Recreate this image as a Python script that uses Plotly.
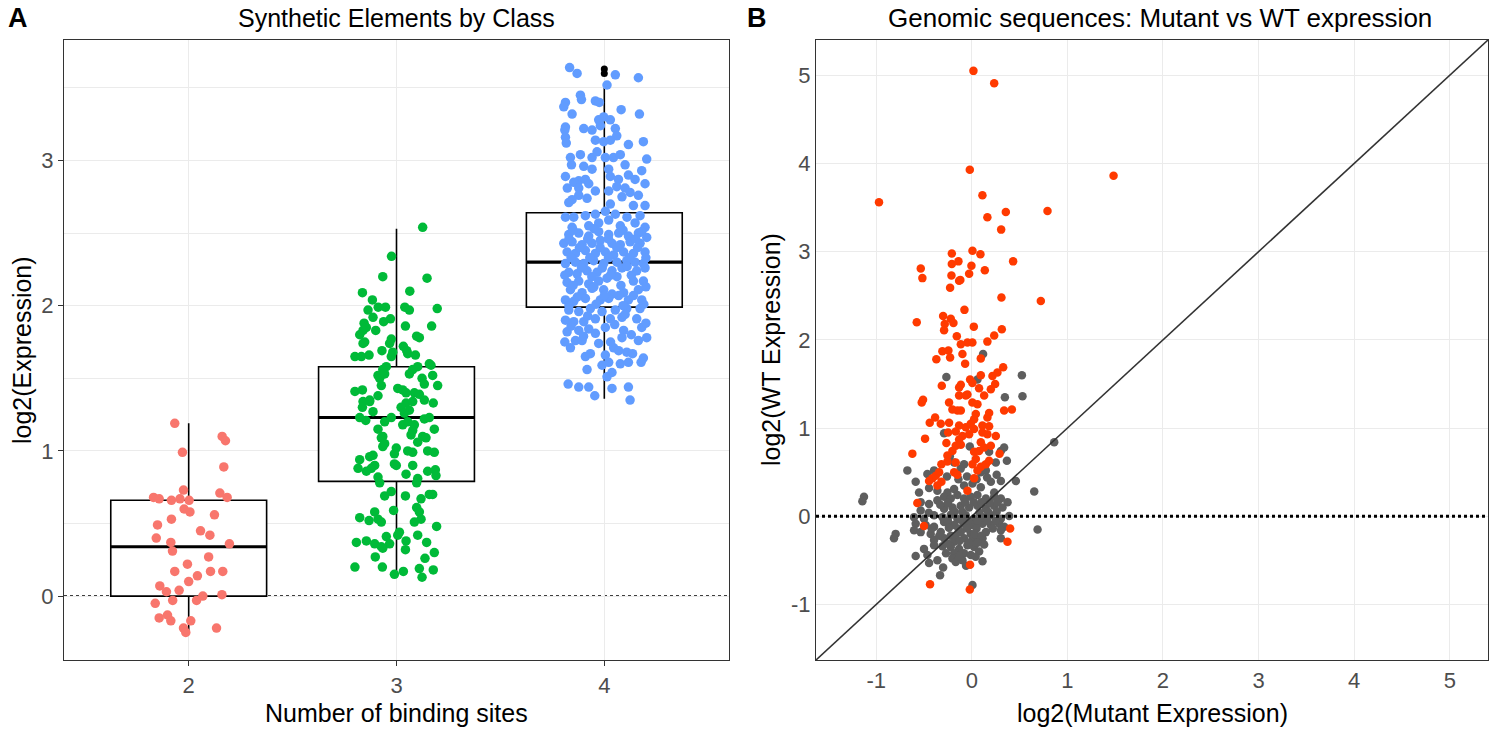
import plotly.graph_objects as go

# ---- panel A : synthetic elements ----
# jitter offset from the category and log2 expression for each element
red_dx = [-0.067, 0.161, 0.177, -0.03, 0.169, -0.025, -0.169, -0.142, -0.083, -0.042, 0.002, 0.15, 0.185,
          -0.022, 0.006, 0.124, -0.083, -0.15, 0.057, 0.102, -0.156, -0.086, -0.078, 0.196, 0.096, -0.006,
          -0.067, 0.105, 0.164, 0.042, 0.0, -0.139, -0.107, -0.046, 0.068, 0.038, 0.16, -0.161, -0.077,
          -0.142, -0.102, -0.086, 0.01, 0.134, -0.025, -0.014]
red_y = [1.19, 1.10, 1.07, 0.99, 0.89, 0.73, 0.68, 0.67, 0.66, 0.67, 0.66, 0.71, 0.68,
         0.60, 0.58, 0.56, 0.53, 0.49, 0.45, 0.42, 0.40, 0.37, 0.31, 0.36, 0.27, 0.22,
         0.17, 0.17, 0.17, 0.14, 0.10, 0.07, 0.03, 0.04, 0.00, -0.03, 0.01, -0.05, -0.03,
         -0.15, -0.13, -0.17, -0.17, -0.22, -0.22, -0.25]

green_dx = [0.126, -0.024, -0.066, 0.147, -0.164, 0.064, -0.116, -0.088, -0.053, -0.137, 0.04, 0.062, 0.196,
            -0.113, -0.062, -0.029, -0.156, -0.145, 0.043, 0.169, -0.1, -0.161, -0.177, 0.097, 0.11, -0.025,
            -0.033, -0.161, -0.153, 0.033, 0.049, -0.07, -0.2, -0.169, -0.132, -0.025, -0.018, 0.054, 0.091,
            0.158, 0.166, 0.102, 0.078, -0.049, -0.066, -0.089, -0.081, -0.057, 0.062, 0.174, 0.123, 0.134,
            -0.073, 0.198, -0.2, -0.164, 0.006, 0.03, 0.046, 0.086, 0.11, -0.089, -0.129,
            -0.161, -0.129, -0.164, -0.113, 0.046, 0.078, 0.134, 0.177, 0.022, 0.062, 0.038, -0.177, -0.148,
            -0.025, -0.057, 0.03, 0.054, 0.086, 0.134, 0.158, -0.089, 0.182, 0.07, 0.078, -0.066, -0.073,
            0.102, 0.126, 0.142, -0.066, -0.057, -0.001, -0.01, 0.054, 0.078, 0.15, 0.182, -0.113, -0.129,
            -0.177, -0.01, -0.001, 0.078, -0.105, -0.121, -0.145, -0.185, 0.046, -0.089, -0.081, 0.102, 0.097,
            0.15, 0.187, 0.19, -0.025, -0.057, 0.043, 0.118, 0.158, 0.174, -0.105, -0.014, 0.097, 0.11,
            -0.177, -0.132, -0.089, -0.073, 0.086, 0.118, 0.193, 0.014, 0.006, -0.193, -0.145, -0.105, -0.049,
            -0.033, -0.066, -0.073, 0.046, 0.043, 0.102, 0.145, 0.182, 0.137, -0.102, -0.2, -0.068, -0.01,
            0.033, 0.11, 0.123, 0.177]
green_y = [2.54, 2.34, 2.20, 2.19, 2.09, 2.10, 2.04, 1.99, 1.99, 1.97, 1.99, 1.97, 1.98,
           1.92, 1.89, 1.91, 1.88, 1.85, 1.86, 1.86, 1.83, 1.83, 1.80, 1.79, 1.78, 1.77,
           1.74, 1.74, 1.75, 1.72, 1.69, 1.69, 1.65, 1.65, 1.66, 1.65, 1.68, 1.67, 1.66,
           1.60, 1.59, 1.58, 1.56, 1.58, 1.56, 1.52, 1.50, 1.53, 1.53, 1.52, 1.50, 1.46,
           1.45, 1.45, 1.41, 1.42, 1.43, 1.42, 1.40, 1.40, 1.39, 1.38, 1.35,
           1.34, 1.34, 1.30, 1.27, 1.33, 1.34, 1.35, 1.33, 1.30, 1.28, 1.26, 1.23, 1.21,
           1.23, 1.20, 1.18, 1.20, 1.18, 1.22, 1.23, 1.15, 1.15, 1.11, 1.14, 1.10, 1.09,
           1.06, 1.10, 1.09, 1.03, 1.05, 1.02, 0.98, 1.00, 0.99, 1.00, 0.99, 0.97, 0.96,
           0.94, 0.91, 0.90, 0.90, 0.90, 0.88, 0.86, 0.88, 0.84, 0.82, 0.78, 0.81, 0.78,
           0.86, 0.87, 0.83, 0.72, 0.69, 0.69, 0.67, 0.70, 0.70, 0.58, 0.59, 0.61, 0.58,
           0.54, 0.52, 0.53, 0.51, 0.51, 0.53, 0.48, 0.44, 0.42, 0.37, 0.38, 0.36, 0.41,
           0.36, 0.33, 0.34, 0.38, 0.32, 0.42, 0.37, 0.30, 0.26, 0.27, 0.20, 0.20, 0.15,
           0.17, 0.19, 0.13, 0.18]

blue_dx = [-0.167, -0.131, 0.053, 0.164, 0.013, -0.115, -0.11, -0.187, -0.195, -0.043, -0.024, 0.081, -0.155,
           0.169, -0.027, -0.003, 0.029, -0.187, -0.19, -0.099, -0.059, 0.053, -0.019, 0.06, -0.187, -0.183,
           -0.043, -0.003, 0.029, 0.116, 0.188, -0.163, -0.115, -0.059, -0.035, 0.005, 0.044, 0.077, 0.204,
           -0.158, -0.099, -0.059, 0.021, 0.10, 0.18, -0.187, -0.123, -0.091, -0.075, 0.029, 0.068, 0.116,
           0.148, -0.147, 0.196, -0.178, -0.123, -0.043, 0.021, 0.06, 0.10, 0.124, -0.123, -0.083, -0.155,
           0.085, 0.164, 0.029, -0.171, 0.14, 0.196, -0.187, -0.147, -0.091, -0.043, 0.005, 0.053, 0.109,
           0.172, -0.027, 0.021, 0.077, 0.148, 0.196, -0.155, -0.075,
           -0.171, -0.123, -0.075, -0.027, 0.021, 0.069, 0.116, 0.164, 0.204,
           -0.195, -0.155, -0.107, -0.059, -0.019, 0.037, 0.077, 0.124, 0.172,
           -0.179, -0.139, -0.091, -0.043, 0.005, 0.045, 0.093, 0.14, 0.196,
           -0.187, -0.139, -0.099, -0.051, -0.003, 0.061, 0.108, 0.148, 0.188,
           -0.171, -0.131, -0.083, -0.035, 0.037, 0.085, 0.156, 0.196,
           -0.179, -0.123, -0.075, -0.027, 0.013, 0.061, 0.14, 0.188,
           -0.163, -0.107, -0.059, -0.003, 0.037, 0.093, 0.164,
           -0.187, -0.147, -0.091, -0.019, 0.021, 0.069, 0.116, 0.18,
           -0.171, -0.123, -0.067, -0.011, 0.053, 0.108, 0.172,
           -0.187, -0.147, -0.099, -0.043, 0.029, 0.085, 0.156,
           -0.179, -0.123, -0.075, -0.043, 0.005, 0.093, 0.18,
           -0.163, -0.139, -0.107, -0.027, 0.085, 0.164, 0.204,
           -0.091, -0.067, 0.005, 0.045, 0.069, 0.108, 0.136,
           -0.083, -0.011, 0.021, 0.077, 0.116, 0.177, 0.188,
           0.013, 0.037, -0.174, -0.123, -0.075, 0.037, 0.116, -0.046, 0.124,
           -0.15, -0.05, 0.09, 0.18, -0.17, -0.08, 0.02, 0.15, -0.12, -0.02, 0.06, 0.16, -0.16, -0.07,
           0.02, 0.12, 0.2, -0.11, -0.01, 0.11, -0.19, -0.06, 0.03, 0.13, -0.15, -0.05, 0.08, 0.2,
           -0.13, 0.0, 0.14, -0.17, -0.04, 0.09, 0.19, -0.08, 0.1, -0.16, 0.05, 0.2, -0.1, 0.13,
           -0.19, 0.03]
blue_y = [3.64, 3.60, 3.59, 3.57, 3.52, 3.45, 3.42, 3.40, 3.37, 3.41, 3.40, 3.35, 3.32,
          3.32, 3.28, 3.30, 3.28, 3.23, 3.21, 3.22, 3.21, 3.22, 3.24, 3.17, 3.16, 3.12,
          3.14, 3.13, 3.14, 3.11, 3.13, 3.02, 3.04, 3.02, 3.06, 3.02, 3.02, 3.04, 3.01,
          2.97, 2.96, 2.94, 2.94, 2.97, 2.93, 2.89, 2.86, 2.87, 2.84, 2.89, 2.87, 2.90,
          2.87, 2.85, 2.84, 2.81, 2.81, 2.79, 2.79, 2.82, 2.81, 2.78, 2.76, 2.74, 2.73,
          2.75, 2.76, 2.70, 2.71, 2.69, 2.69, 2.61, 2.61, 2.62, 2.63, 2.65, 2.63, 2.61,
          2.62, 2.57, 2.59, 2.55, 2.57, 2.54, 2.54, 2.55,
          2.49, 2.50, 2.48, 2.51, 2.49, 2.50, 2.48, 2.50, 2.47,
          2.43, 2.44, 2.42, 2.43, 2.45, 2.43, 2.42, 2.44, 2.43,
          2.37, 2.36, 2.38, 2.36, 2.37, 2.35, 2.37, 2.36, 2.37,
          2.29, 2.30, 2.29, 2.31, 2.29, 2.30, 2.31, 2.30, 2.29,
          2.23, 2.22, 2.24, 2.23, 2.24, 2.26, 2.24, 2.26,
          2.16, 2.17, 2.15, 2.17, 2.19, 2.20, 2.17, 2.17,
          2.11, 2.09, 2.12, 2.11, 2.08, 2.09, 2.11,
          2.04, 2.03, 2.05, 2.04, 2.05, 2.07, 2.04, 2.04,
          1.97, 1.96, 1.98, 1.96, 1.97, 1.98, 1.98,
          1.90, 1.89, 1.89, 1.91, 1.91, 1.92, 1.91,
          1.82, 1.83, 1.84, 1.81, 1.85, 1.83, 1.85,
          1.71, 1.76, 1.76, 1.74, 1.78, 1.76, 1.78,
          1.65, 1.67, 1.66, 1.71, 1.69, 1.68, 1.67,
          1.56, 1.59, 1.61, 1.60, 1.61, 1.61, 1.64,
          1.51, 1.54, 1.46, 1.44, 1.44, 1.43, 1.44, 1.38, 1.35,
          2.52, 2.53, 2.52, 2.51, 2.46, 2.46, 2.46, 2.46, 2.40, 2.40, 2.40, 2.40, 2.33, 2.33,
          2.33, 2.33, 2.33, 2.26, 2.26, 2.27, 2.21, 2.20, 2.21, 2.21, 2.14, 2.13, 2.14, 2.13,
          2.06, 2.07, 2.07, 2.00, 2.01, 2.00, 2.01, 1.93, 1.94, 1.86, 1.87, 1.88, 1.79, 1.80,
          1.75, 1.75]

# box statistics per class (number of binding sites)
box_cats = [2, 3, 4]
box_q1 = [0.00, 0.79, 1.99]
box_med = [0.34, 1.23, 2.30]
box_q3 = [0.66, 1.58, 2.64]
box_lo = [-0.24, 0.13, 1.36]
box_hi = [1.19, 2.53, 3.50]
outlier_y = [3.63, 3.60]

a_yticks = [0, 1, 2, 3]

# ---- panel B : genomic sequences ----
gray_mut = [0.118, -0.266, 0.059, 0.524, 0.346, 0.53, -0.29, -0.021, 0.181, 0.304, 0.338, 0.862, -0.23,
            0.367, 0.251, -0.185, -0.081, 0.129, -0.674, -0.587, -0.465, -0.395, -0.116, 0.094, 0.147, 0.199,
            0.304, 0.461, 0.653, -0.552, -0.447, -0.36, -0.255, -0.185, -0.081, 0.007, 0.094, 0.234, -1.128,
            -1.145, -0.535, -0.447, -0.36, -0.29, -0.22, -0.151, -0.081, -0.011, 0.059, 0.147, 0.234, 0.304,
            0.374, -0.29, -0.203, -0.116, -0.028, 0.059, 0.147, 0.234, 0.321, -0.535, -0.604, -0.5, -0.395,
            -0.307, -0.22, -0.151, -0.063, 0.024, 0.112, 0.199, 0.304, 0.391, -0.587, -0.483, -0.395, -0.29,
            -0.185, -0.081, 0.007, 0.112, 0.199, 0.286, 0.339, -0.797, -0.814, -0.604, -0.535, -0.43, -0.325,
            -0.22, -0.116, -0.011, 0.059, 0.147, 0.304, 0.688, -0.395, -0.29, -0.185, -0.081, 0.007, 0.112,
            -0.5, -0.395, -0.307, -0.22, -0.133, -0.046, 0.024, 0.129, 0.304, -0.587, -0.465, -0.185, -0.081,
            -0.011, 0.077, -0.447, -0.36, -0.203, -0.168, -0.098, 0.112, -0.332, 0.007,
            -0.26, -0.14, -0.05, 0.05, 0.16, 0.26, -0.33, -0.25, -0.07, 0.02, 0.1, 0.19, 0.27, -0.45,
            -0.18, -0.1, 0.08, 0.17, 0.26, -0.25, -0.12, -0.04, 0.06, 0.16, 0.25, -0.42, -0.24, -0.14,
            -0.05, 0.05, 0.22, -0.34, -0.17, 0.03, 0.1, -0.25, -0.13, -0.03, 0.06, -0.27, -0.13, 0.04,
            -0.06, -0.3]
gray_wt = [1.84, 1.58, 1.55, 1.60, 1.35, 1.36, 0.94, 0.79, 0.73, 0.74, 0.78, 0.84, 0.68,
           0.63, 0.61, 0.61, 0.59, 0.57, 0.52, 0.39, 0.48, 0.52, 0.54, 0.50, 0.52, 0.39,
           0.40, 0.40, 0.28, 0.27, 0.32, 0.29, 0.27, 0.31, 0.35, 0.37, 0.33, 0.27, 0.22,
           0.17, 0.16, 0.14, 0.18, 0.22, 0.20, 0.24, 0.20, 0.22, 0.24, 0.20, 0.22, 0.20,
           0.16, 0.085, 0.10, 0.12, 0.10, 0.12, 0.085, 0.12, 0.10, 0.066, -0.01, -0.028, 0.01,
           -0.01, 0.017, -0.028, 0.01, -0.028, -0.01, 0.01, -0.028, 0.002, -0.085, -0.10, -0.12, -0.066,
           -0.10, -0.085, -0.10, -0.085, -0.10, -0.085, -0.12, -0.20, -0.25, -0.16, -0.18, -0.20, -0.18,
           -0.22, -0.18, -0.20, -0.24, -0.18, -0.16, -0.15, -0.27, -0.25, -0.29, -0.25, -0.27, -0.25,
           -0.37, -0.33, -0.34, -0.35, -0.37, -0.33, -0.35, -0.32, -0.25, -0.45, -0.44, -0.42, -0.42,
           -0.44, -0.40, -0.53, -0.50, -0.48, -0.52, -0.50, -0.51, -0.67, -0.78,
           0.45, 0.42, 0.45, 0.42, 0.44, 0.47, 0.13, 0.15, 0.16, 0.16, 0.16, 0.15, 0.16, 0.04,
           0.05, 0.05, 0.04, 0.05, 0.05, -0.05, -0.04, -0.05, -0.06, -0.05, -0.05, -0.14, -0.13, -0.14,
           -0.14, -0.14, -0.14, -0.22, -0.22, -0.20, -0.22, -0.31, -0.28, -0.30, -0.30, -0.42, -0.45, -0.46,
           -0.56, -0.58]

red_mut = [0.017, 0.234, -0.021, 1.483, -0.971, 0.111, 0.792, 0.356, 0.163, 0.307, -0.209, 0.007, 0.09,
           0.432, -0.534, -0.517, -0.209, -0.14, -0.004, 0.136, -0.213, -0.133, -0.12, -0.028, -0.227, 0.31,
           0.722, -0.077, -0.576, -0.3, -0.22, -0.283, -0.192, 0.021, 0.314,
           -0.29, 0.234, -0.157, 0.163, -0.115, -0.046, 0.006, -0.308, -0.245, -0.098, -0.371, -0.227, 0.094,
           -0.07, 0.328, 0.094, 0.268, 0.216, -0.018, 0.006, -0.115, -0.133, -0.314, 0.076, 0.199, 0.244,
           -0.133, -0.063, -0.046, 0.129, -0.51, -0.524, 0.006, 0.059, -0.238, -0.203, -0.15, -0.115, 0.338,
           0.419, 0.042, 0.024, 0.163, 0.181, -0.384, -0.44, -0.325, -0.238, -0.133, -0.063, -0.011, 0.111,
           0.181, 0.024, -0.028, -0.248, -0.168, -0.098, -0.133, 0.111, 0.163, 0.251, -0.489, -0.266, -0.168,
           -0.115, 0.094, 0.129, 0.199, -0.622, -0.255, -0.203, 0.024, 0.076, 0.29,
           -0.318, -0.255, -0.168, -0.412, -0.377, -0.342, -0.185, -0.151, -0.447, -0.36, -0.318, -0.046,
           0.024, 0.059, 0.094, 0.147, 0.181, 0.007, 0.042, -0.57, -0.5, 0.401, 0.373, -0.018, -0.437, -0.021]
red_wt = [5.05, 4.91, 3.93, 3.86, 3.56, 3.64, 3.46, 3.45, 3.39, 3.25, 2.98, 3.01, 2.97,
          2.89, 2.81, 2.70, 2.86, 2.89, 2.84, 2.79, 2.73, 2.67, 2.68, 2.75, 2.59, 2.48,
          2.44, 2.34, 2.20, 2.27, 2.24, 2.18, 2.19, 2.15, 2.12,
          2.11, 2.05, 2.04, 1.98, 1.95, 1.97, 1.97, 1.87, 1.88, 1.84, 1.78, 1.80, 1.79,
          1.73, 1.69, 1.60, 1.63, 1.59, 1.55, 1.51, 1.49, 1.46, 1.48, 1.45, 1.44, 1.50,
          1.37, 1.37, 1.38, 1.37, 1.32, 1.29, 1.29, 1.27, 1.29, 1.21, 1.20, 1.20, 1.20,
          1.21, 1.16, 1.10, 1.12, 1.17, 1.12, 1.06, 1.05, 1.06, 1.03, 1.01, 1.05, 1.03,
          1.02, 0.99, 0.93, 0.95, 0.96, 0.91, 0.87, 0.95, 0.93, 0.91, 0.88, 0.83, 0.80,
          0.81, 0.84, 0.78, 0.80, 0.71, 0.69, 0.74, 0.73, 0.74, 0.71,
          0.59, 0.62, 0.61, 0.43, 0.46, 0.50, 0.50, 0.47, 0.40, 0.35, 0.39, 0.29,
          0.43, 0.52, 0.56, 0.59, 0.63, 0.59, 0.65, 0.15, -0.11, -0.14, -0.29, -0.55, -0.77, -0.83]

b_ticks = [-1, 0, 1, 2, 3, 4, 5]
b_lim = [-1.63, 5.40]

FONT = "Liberation Sans, Arial, Helvetica, sans-serif"
GRID = "#EBEBEB"
BORDER = "#333333"

W, H = 1500, 733


def px_x(x):
    return x / W


def px_y(y):
    return 1 - y / H


fig = go.Figure()

# boxes (drawn first so the points sit on top)
fig.add_trace(go.Box(
    x=box_cats, q1=box_q1, median=box_med, q3=box_q3,
    lowerfence=box_lo, upperfence=box_hi,
    width=0.75, whiskerwidth=0, boxpoints=False,
    fillcolor="white", line=dict(color="black", width=1.6),
    xaxis="x", yaxis="y", showlegend=False, hoverinfo="skip"))

# thick median bars like ggplot
med_x, med_y = [], []
for c, m in zip(box_cats, box_med):
    med_x += [c - 0.375, c + 0.375, None]
    med_y += [m, m, None]
fig.add_trace(go.Scatter(x=med_x, y=med_y, mode="lines",
                         line=dict(color="black", width=3.2),
                         xaxis="x", yaxis="y", showlegend=False, hoverinfo="skip"))

for cat, dx, ys, col in [(2, red_dx, red_y, "#F8766D"),
                         (3, green_dx, green_y, "#00BA38"),
                         (4, blue_dx, blue_y, "#619CFF")]:
    fig.add_trace(go.Scatter(
        x=[cat + d for d in dx], y=ys, mode="markers",
        marker=dict(color=col, size=9.5, line=dict(width=0)),
        xaxis="x", yaxis="y", showlegend=False))

fig.add_trace(go.Scatter(x=[4] * len(outlier_y), y=outlier_y, mode="markers",
                         marker=dict(color="black", size=7),
                         xaxis="x", yaxis="y", showlegend=False))

# panel B points
fig.add_trace(go.Scatter(x=gray_mut, y=gray_wt, mode="markers",
                         marker=dict(color="#5E5E5E", size=8.5, line=dict(width=0)),
                         xaxis="x2", yaxis="y2", showlegend=False))
fig.add_trace(go.Scatter(x=red_mut, y=red_wt, mode="markers",
                         marker=dict(color="#FF3A00", size=8.5, line=dict(width=0)),
                         xaxis="x2", yaxis="y2", showlegend=False))

tickfont = dict(family=FONT, size=22, color="#4D4D4D")
ydom = [px_y(660), px_y(40)]

fig.update_layout(
    width=W, height=H,
    margin=dict(l=0, r=0, t=0, b=0),
    paper_bgcolor="white", plot_bgcolor="white",
    font=dict(family=FONT),
    xaxis=dict(domain=[px_x(64), px_x(729)], range=[1.4, 4.6],
               tickvals=box_cats, ticktext=[str(c) for c in box_cats],
               showgrid=True, gridcolor=GRID, gridwidth=1.3, zeroline=False,
               ticks="outside", ticklen=5, tickwidth=1.2, tickcolor=BORDER,
               showline=True, mirror=True, linecolor=BORDER, linewidth=1.2,
               tickfont=tickfont),
    yaxis=dict(domain=ydom, range=[-0.44, 3.83],
               tickvals=a_yticks, ticktext=[str(t) for t in a_yticks],
               showgrid=True, gridcolor=GRID, gridwidth=1.3, zeroline=False,
               minor=dict(dtick=0.5, tick0=0, showgrid=True, gridcolor=GRID, gridwidth=0.7),
               ticks="outside", ticklen=5, tickwidth=1.2, tickcolor=BORDER,
               showline=True, mirror=True, linecolor=BORDER, linewidth=1.2,
               tickfont=tickfont),
    xaxis2=dict(domain=[px_x(816), px_x(1488)], range=b_lim,
                tickvals=b_ticks, ticktext=[str(t) for t in b_ticks],
                showgrid=True, gridcolor=GRID, gridwidth=1.3, zeroline=False,
                ticks="", showline=True, mirror=True, linecolor=BORDER, linewidth=1.2,
                tickfont=tickfont, anchor="y2"),
    yaxis2=dict(domain=ydom, range=b_lim,
                tickvals=b_ticks, ticktext=[str(t) for t in b_ticks],
                showgrid=True, gridcolor=GRID, gridwidth=1.3, zeroline=False,
                ticks="", showline=True, mirror=True, linecolor=BORDER, linewidth=1.2,
                tickfont=tickfont, anchor="x2"),
    shapes=[
        dict(type="line", xref="x domain", x0=0, x1=1, yref="y", y0=0, y1=0,
             line=dict(color="black", width=1.6, dash="dot"), layer="below"),
        dict(type="line", xref="x2", yref="y2", x0=b_lim[0], y0=b_lim[0], x1=b_lim[1], y1=b_lim[1],
             line=dict(color="#333333", width=1.6)),
        dict(type="line", xref="x2 domain", x0=0, x1=1, yref="y2", y0=0, y1=0,
             line=dict(color="black", width=2.8, dash="dot")),
    ],
)


def txt(x, y, s, size, color="black", bold=False, angle=0):
    fig.add_annotation(x=px_x(x), y=px_y(y), xref="paper", yref="paper",
                       text="<b>%s</b>" % s if bold else s, showarrow=False,
                       textangle=angle, xanchor="center", yanchor="middle",
                       font=dict(family=FONT, size=size, color=color))


txt(18, 18, "A", 27, bold=True)
txt(757, 18, "B", 27, bold=True)
txt(396, 18, "Synthetic Elements by Class", 25)
txt(1160, 18, "Genomic sequences: Mutant vs WT expression", 26)
txt(396, 713, "Number of binding sites", 25)
txt(1152, 713, "log2(Mutant Expression)", 25)
txt(22, 350, "log2(Expression)", 25, angle=-90)
txt(771, 350, "log2(WT Expression)", 25, angle=-90)

# drop the browser's default 8px body margin so the figure fills the window
fig.write_html("out.html", config={"displayModeBar": False},
               post_script="document.body.style.margin='0px';")
